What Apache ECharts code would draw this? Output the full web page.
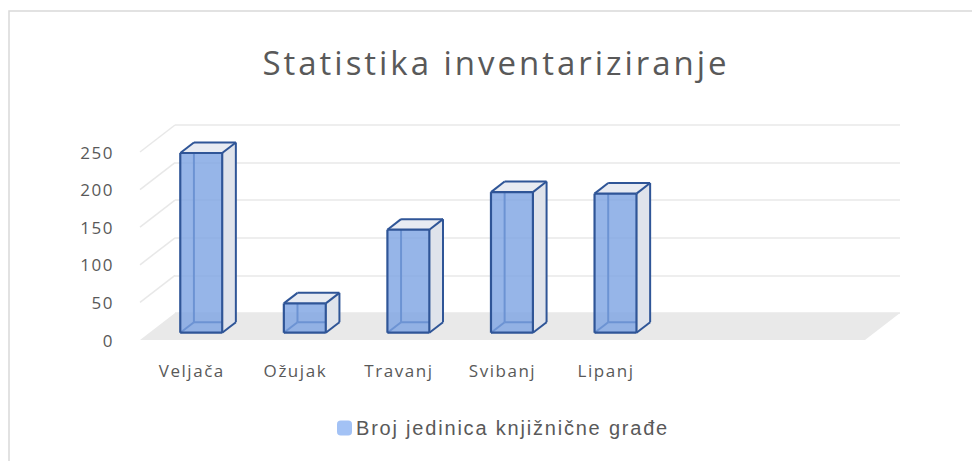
<!DOCTYPE html>
<html>
<head>
<meta charset="utf-8">
<script src="https://cdn.jsdelivr.net/npm/echarts@6/dist/echarts.min.js"></script>
<style>
html,body{margin:0;padding:0;background:#fff;}
#chart{width:972px;height:461px;}
#chart svg text{letter-spacing:0.09em;}
</style>
</head>
<body>
<div id="chart"></div>
<script>
// ---- data ----
const categories = ['Veljača', 'Ožujak', 'Travanj', 'Svibanj', 'Lipanj', '', ''];
const seriesName = 'Broj jedinica knjižnične građe';
const values = [239, 39, 137, 187, 185];
const yTicks = [0, 50, 100, 150, 200, 250];
const titleText = 'Statistika inventariziranje';

// ---- style / geometry ----
const DX = 35, DY = -27;          // depth vector (front plane -> back wall)
const F1 = 0.27, F2 = 0.66;       // bar depth range
const EDGE = '#2f5597';
const FONT = 'Open Sans';

const chart = echarts.init(document.getElementById('chart'), null, {renderer: 'svg'});

function renderBar(params, api) {
  const cat = api.value(0), val = api.value(1);
  const base = api.coord([cat, 0]);
  const top = api.coord([cat, val]);
  const bw = api.size([1, 0])[0] * 0.405;
  const x0 = base[0] - bw / 2 + DX * F1, x1 = x0 + bw;
  const yb = base[1] + DY * F1, yt = top[1] + DY * F1;
  const ox = DX * (F2 - F1), oy = DY * (F2 - F1);
  const line = (a, b, w, c) => ({type: 'line', shape: {x1: a[0], y1: a[1], x2: b[0], y2: b[1]},
    style: {stroke: c || EDGE, lineWidth: w || 2}});
  const FLb = [x0, yb], FRb = [x1, yb], FRt = [x1, yt], FLt = [x0, yt];
  const BLb = [x0 + ox, yb + oy], BRb = [x1 + ox, yb + oy], BRt = [x1 + ox, yt + oy], BLt = [x0 + ox, yt + oy];
  return {
    type: 'group',
    children: [
      line(BLb, BLt, 2),
      line(BLb, BRb, 2),
      line(FLb, BLb, 2),
      {type: 'polygon', shape: {points: [FRb, FRt, BRt, BRb]}, style: {fill: '#dfe3eb'}},
      {type: 'polygon', shape: {points: [FLt, FRt, BRt, BLt]}, style: {fill: '#e8ebf2'}},
      {type: 'polygon', shape: {points: [FLb, FRb, FRt, FLt]}, style: {fill: 'rgba(124,162,226,0.8)'}},
      line(FLb, FRb, 2.2), line(FRb, FRt, 2.2), line(FRt, FLt, 2.2), line(FLt, FLb, 2.2),
      line(FRb, BRb, 2), line(BRb, BRt, 2), line(FRt, BRt, 2), line(BRt, BLt, 2), line(FLt, BLt, 2)
    ]
  };
}

function renderWalls(params, api) {
  const v = api.value(0);
  const cs = params.coordSys;
  const p = api.coord([0, v]);
  const xl = cs.x, xr = cs.x + cs.width;
  const children = [];
  if (v === 0) {
    children.push({type: 'polygon', shape: {points: [[xl, p[1]], [xr, p[1]], [xr + DX, p[1] + DY], [xl + DX, p[1] + DY]]},
      style: {fill: '#e9e9e9'}});
  } else {
    children.push({type: 'line', shape: {x1: xl, y1: p[1], x2: xl + DX, y2: p[1] + DY},
      style: {stroke: '#e8e8e8', lineWidth: 1.5}});
  }
  return {type: 'group', children};
}

const option = {
  backgroundColor: '#fff',
  animation: false,
  legend: {
    data: [{name: seriesName, icon: 'roundRect'}],
    bottom: 18, left: 332,
    itemWidth: 15, itemHeight: 15, itemGap: 10,
    textStyle: {fontFamily: 'Liberation Sans', fontSize: 20, color: '#595959', padding: [0, 0, 0, -1]}
  },
  graphic: [
    {type: 'rect', shape: {x: 9, y: 11, width: 1000, height: 500},
      style: {fill: 'none', stroke: '#d9d9d9', lineWidth: 1.5}, silent: true, z: 100},
    {type: 'text', x: 496, y: 62, silent: true,
      style: {text: titleText, fontFamily: FONT, fontSize: 33, fill: '#595959',
        textAlign: 'center', textVerticalAlign: 'middle'}}
  ],
  grid: [
    {left: 140, right: 107, top: 152, bottom: 121},
    {left: 175, right: 72, top: 125, bottom: 148}
  ],
  xAxis: [
    {type: 'category', data: categories, gridIndex: 0,
      axisLine: {show: false}, axisTick: {show: false}, splitLine: {show: false},
      axisLabel: {margin: 22, fontFamily: FONT, fontSize: 17, color: '#595959', interval: 0}},
    {type: 'category', data: categories, gridIndex: 1, show: false}
  ],
  yAxis: [
    {type: 'value', min: 0, max: 250, interval: 50, gridIndex: 0,
      axisLine: {show: false}, axisTick: {show: false}, splitLine: {show: false},
      axisLabel: {margin: 26, fontFamily: FONT, fontSize: 17, color: '#595959'}},
    {type: 'value', min: 0, max: 250, interval: 50, gridIndex: 1,
      axisLine: {show: false}, axisTick: {show: false}, axisLabel: {show: false},
      splitLine: {show: true, lineStyle: {color: '#e8e8e8', width: 1.5}}}
  ],
  series: [
    {type: 'custom', name: 'walls', xAxisIndex: 0, yAxisIndex: 0, silent: true, z: 1,
      renderItem: renderWalls, data: yTicks.map(v => [v])},
    {type: 'custom', name: seriesName, xAxisIndex: 0, yAxisIndex: 0, z: 2,
      itemStyle: {color: '#a3c2f5'},
      encode: {x: 0, y: 1},
      renderItem: renderBar, data: values.map((v, i) => [i, v])}
  ]
};
chart.setOption(option);
</script>
</body>
</html>
